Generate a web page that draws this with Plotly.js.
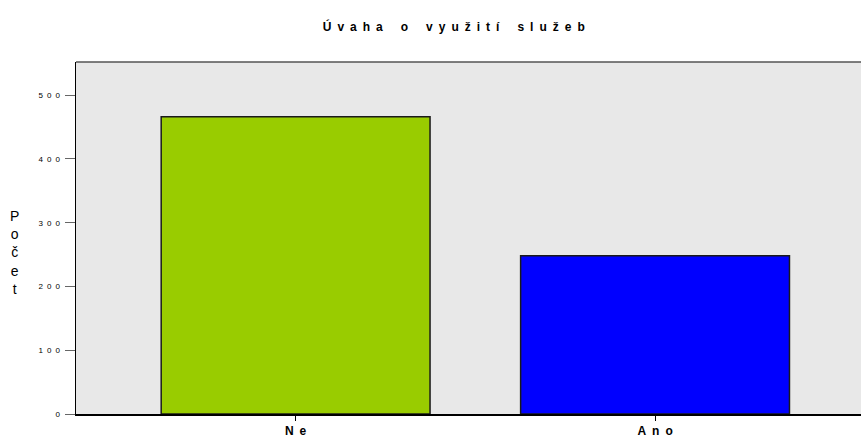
<!DOCTYPE html>
<html><head><meta charset="utf-8">
<script src="https://cdn.plot.ly/plotly-3.0.1.min.js"></script>
<style>html,body{margin:0;padding:0;background:#fff;}#chart{width:861px;height:438px;}</style>
</head><body><div id="chart"></div>
<script>
const categories = ["Ne", "Ano"];
const counts = [466, 248];
const barColors = ["#99cc00", "#0000ff"];
const yTickValues = [0, 100, 200, 300, 400, 500];
const yTickLabels = ["0", "100", "200", "300", "400", "500"];
const chartTitle = "Úvaha o využití služeb";
const yTitle = "Počet";

// letter-spaced rendering helper (visual style of the original)
const spaced = (s, gap) => s.split(" ").map(w => Array.from(w).join(gap)).join(gap + gap + gap);

const trace = {
  type: "bar",
  x: [0, 1],
  y: counts,
  width: 0.748,
  marker: {color: barColors, line: {color: "#1a1a1a", width: 1.5}},
  hoverinfo: "none"
};

const layout = {
  width: 861, height: 438,
  margin: {l: 76, r: 0, t: 62, b: 24},
  paper_bgcolor: "#ffffff",
  plot_bgcolor: "#e8e8e8",
  showlegend: false,
  title: {text: spaced(chartTitle, "\u2002"), x: 0.527, xanchor: "center", y: 0.938, yanchor: "middle",
          font: {family: "Liberation Sans, Arial", size: 12, color: "#000", weight: "bold"}},
  xaxis: {
    range: [-0.611, 1.573],
    tickmode: "array", tickvals: [0, 1], ticktext: categories.map(c => spaced(c, "\u2002")),
    ticks: "outside", ticklen: 5, tickcolor: "#000", tickwidth: 1,
    showgrid: false, zeroline: false,
    showline: true, linecolor: "#000", linewidth: 1.5,
    tickfont: {family: "Liberation Sans, Arial", size: 12, color: "#000", weight: "bold"},
    fixedrange: true
  },
  yaxis: {
    range: [0, 552],
    tickmode: "array", tickvals: yTickValues, ticktext: yTickLabels.map(t => spaced(t, "\u2002")),
    ticks: "outside", ticklen: 10, tickcolor: "#666", tickwidth: 1,
    ticklabelstandoff: 3,
    showgrid: false, zeroline: false,
    showline: true, linecolor: "#000", linewidth: 1.5,
    tickfont: {family: "Liberation Sans, Arial", size: 8, color: "#000"},
    fixedrange: true
  },
  shapes: [
    {type: "line", xref: "paper", yref: "paper", x0: 0, x1: 1, y0: 1, y1: 1,
     line: {color: "#555", width: 1.5}}
  ],
  annotations: [
    {text: Array.from(yTitle).join("<br>"), xref: "paper", yref: "paper", x: -0.078, y: 0.46, xanchor: "center", yanchor: "middle",
     showarrow: false, align: "center",
     font: {family: "Liberation Sans, Arial", size: 14, color: "#000"}}
  ]
};

Plotly.newPlot("chart", [trace], layout, {displayModeBar: false, staticPlot: true});
</script></body></html>
